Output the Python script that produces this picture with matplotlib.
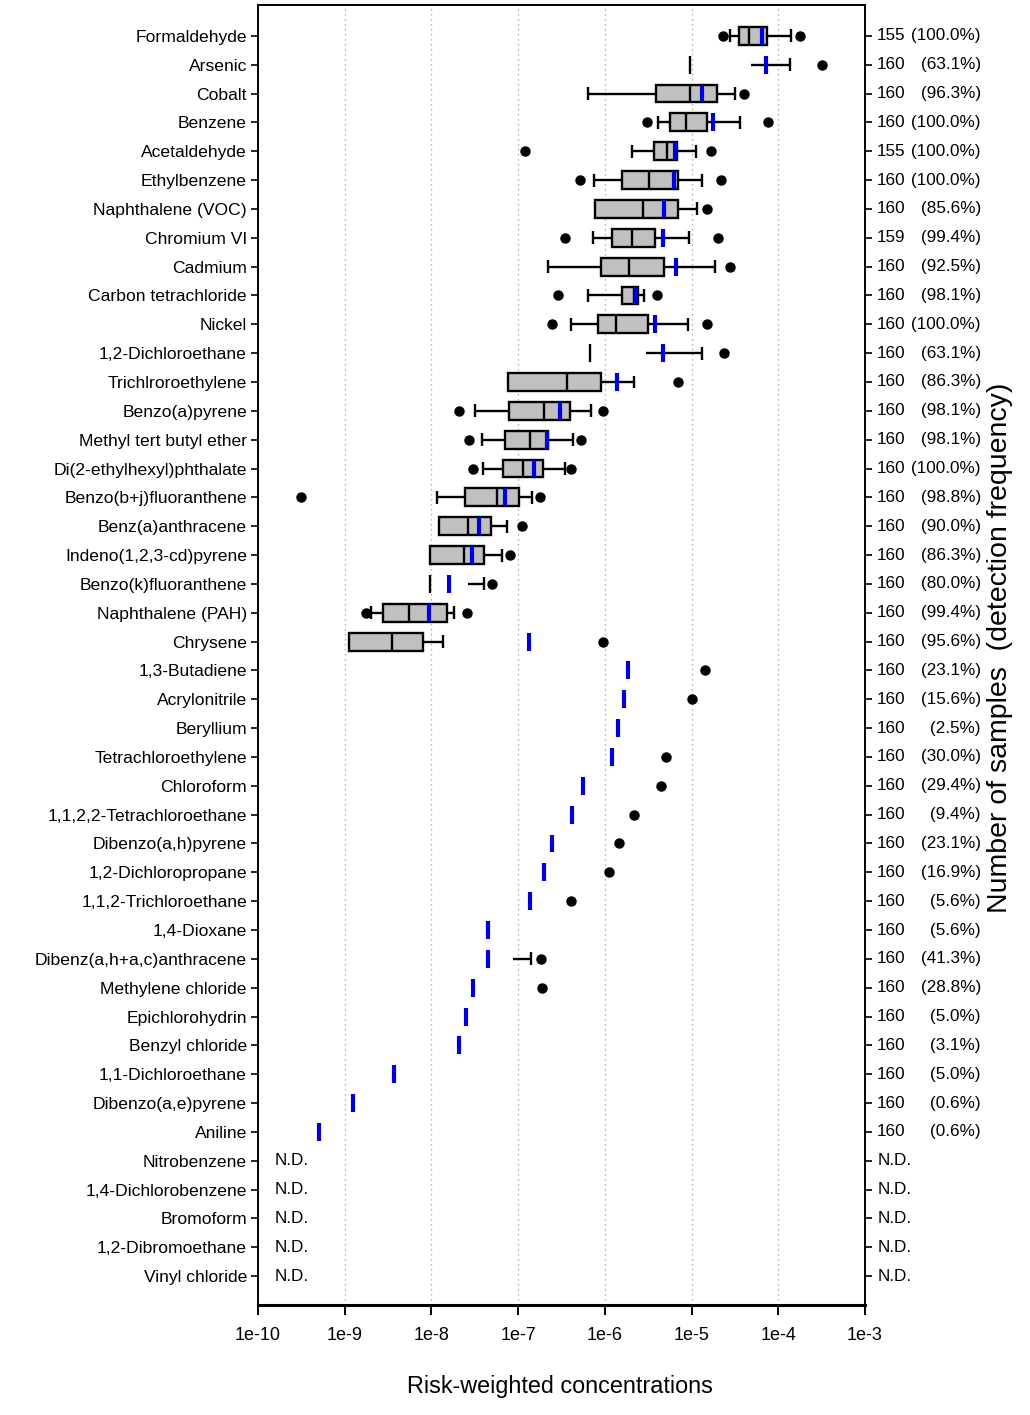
import matplotlib
matplotlib.use("Agg")
import matplotlib.pyplot as plt
import numpy as np
from matplotlib.patches import Rectangle

nan = np.nan

compounds = [
    "Formaldehyde", "Arsenic", "Cobalt", "Benzene", "Acetaldehyde", "Ethylbenzene",
    "Naphthalene (VOC)", "Chromium VI", "Cadmium", "Carbon tetrachloride", "Nickel",
    "1,2-Dichloroethane", "Trichlroroethylene", "Benzo(a)pyrene", "Methyl tert butyl ether",
    "Di(2-ethylhexyl)phthalate", "Benzo(b+j)fluoranthene", "Benz(a)anthracene",
    "Indeno(1,2,3-cd)pyrene", "Benzo(k)fluoranthene", "Naphthalene (PAH)", "Chrysene",
    "1,3-Butadiene", "Acrylonitrile", "Beryllium", "Tetrachloroethylene", "Chloroform",
    "1,1,2,2-Tetrachloroethane", "Dibenzo(a,h)pyrene", "1,2-Dichloropropane",
    "1,1,2-Trichloroethane", "1,4-Dioxane", "Dibenz(a,h+a,c)anthracene",
    "Methylene chloride", "Epichlorohydrin", "Benzyl chloride", "1,1-Dichloroethane",
    "Dibenzo(a,e)pyrene", "Aniline", "Nitrobenzene", "1,4-Dichlorobenzene", "Bromoform",
    "1,2-Dibromoethane", "Vinyl chloride",
]

# percentiles (nan = not drawn)
p5 = [2.29e-5, nan, nan, 3.04e-6, 1.20e-7, 5.13e-7, nan, 3.48e-7, nan, 2.86e-7, 2.48e-7,
      nan, nan, 2.10e-8, 2.69e-8, 3.04e-8, 3.13e-10, nan, nan, nan, 1.76e-9, nan] + [nan] * 22
p10 = [2.78e-5, nan, 6.4e-7, 4.11e-6, 2.04e-6, 7.5e-7, 7.7e-7, 7.31e-7, 2.23e-7, 6.46e-7, 4.07e-7,
       nan, 7.59e-8, 3.18e-8, 3.84e-8, 3.94e-8, 1.15e-8, 1.23e-8, 9.64e-9, nan, 2.01e-9, 1.12e-9] + [nan] * 22
p25 = [3.53e-5, nan, 3.86e-6, 5.61e-6, 3.69e-6, 1.58e-6, 7.7e-7, 1.20e-6, 8.97e-7, 1.59e-6, 8.28e-7,
       nan, 7.59e-8, 7.80e-8, 7.0e-8, 6.64e-8, 2.42e-8, 1.23e-8, 9.64e-9, nan, 2.79e-9, 1.12e-9] + [nan] * 22
p50 = [4.60e-5, 9.6e-6, 9.6e-6, 8.65e-6, 5.21e-6, 3.24e-6, 2.78e-6, 2.07e-6, 1.89e-6, 2.17e-6, 1.35e-6,
       6.75e-7, 3.66e-7, 2.00e-7, 1.37e-7, 1.15e-7, 5.66e-8, 2.67e-8, 2.36e-8, 9.64e-9, 5.47e-9, 3.54e-9] + [nan] * 22
p75 = [7.36e-5, 4.82e-5, 1.95e-5, 1.52e-5, 6.86e-6, 6.98e-6, 6.93e-6, 3.82e-6, 4.77e-6, 2.43e-6, 3.15e-6,
       2.98e-6, 9.12e-7, 4.0e-7, 2.19e-7, 1.95e-7, 1.02e-7, 4.86e-8, 4.05e-8, 2.67e-8, 1.50e-8, 7.95e-9,
       nan, nan, nan, nan, nan, nan, nan, nan, nan, nan, 8.81e-8] + [nan] * 11
p90 = [1.39e-4, 1.37e-4, 3.15e-5, 3.62e-5, 1.13e-5, 1.33e-5, 1.17e-5, 9.3e-6, 1.87e-5, 2.81e-6, 9.18e-6,
       1.32e-5, 2.17e-6, 6.93e-7, 4.3e-7, 3.44e-7, 1.45e-7, 7.41e-8, 6.52e-8, 4.01e-8, 1.81e-8, 1.36e-8,
       nan, nan, nan, nan, nan, nan, nan, nan, nan, nan, 1.41e-7] + [nan] * 11
p95 = [1.78e-4, 3.18e-4, 4.06e-5, 7.69e-5, 1.68e-5, 2.17e-5, 1.50e-5, 2.02e-5, 2.76e-5, 3.97e-6, 1.51e-5,
       2.38e-5, 6.93e-6, 9.53e-7, 5.27e-7, 4.07e-7, 1.79e-7, 1.11e-7, 8.07e-8, 5.0e-8, 2.55e-8, 9.53e-7,
       1.41e-5, 1.02e-5, nan, 5.08e-6, 4.49e-6, 2.17e-6, 1.46e-6, 1.11e-6, 4.05e-7, nan, 1.82e-7,
       1.89e-7] + [nan] * 10
means = [6.45e-5, 7.18e-5, 1.33e-5, 1.78e-5, 6.40e-6, 6.24e-6, 4.82e-6, 4.73e-6, 6.62e-6, 2.26e-6, 3.82e-6,
         4.73e-6, 1.39e-6, 3.02e-7, 2.14e-7, 1.54e-7, 7.0e-8, 3.56e-8, 2.92e-8, 1.60e-8, 9.38e-9, 1.34e-7,
         1.87e-6, 1.65e-6, 1.43e-6, 1.22e-6, 5.56e-7, 4.22e-7, 2.48e-7, 1.97e-7, 1.36e-7, 4.5e-8, 4.5e-8,
         3.04e-8, 2.53e-8, 2.10e-8, 3.73e-9, 1.26e-9, 5.1e-10] + [nan] * 5

n_samples = [155, 160, 160, 160, 155, 160, 160, 159, 160, 160, 160, 160, 160, 160, 160, 160, 160, 160,
             160, 160, 160, 160, 160, 160, 160, 160, 160, 160, 160, 160, 160, 160, 160, 160, 160, 160,
             160, 160, 160]
det_freq = [100.0, 63.1, 96.3, 100.0, 100.0, 100.0, 85.6, 99.4, 92.5, 98.1, 100.0, 63.1, 86.3, 98.1,
            98.1, 100.0, 98.8, 90.0, 86.3, 80.0, 99.4, 95.6, 23.1, 15.6, 2.5, 30.0, 29.4, 9.4, 23.1,
            16.9, 5.6, 5.6, 41.3, 28.8, 5.0, 3.1, 5.0, 0.6, 0.6]

xticks = [1e-10, 1e-9, 1e-8, 1e-7, 1e-6, 1e-5, 1e-4, 1e-3]
xticklabels = ["1e-10", "1e-9", "1e-8", "1e-7", "1e-6", "1e-5", "1e-4", "1e-3"]

plt.rcParams["font.family"] = ["Liberation Sans", "DejaVu Sans"]

W, H = 1030, 1415
fig = plt.figure(figsize=(W / 100, H / 100), dpi=100)
ax = fig.add_axes([258 / W, 1 - 1305 / H, 607 / W, 1300 / H])
ax.set_xscale("log")
ax.set_xlim(1e-10, 1e-3)
ax.set_ylim(44.0, -1.07)

for x in xticks[1:-1]:
    ax.axvline(x, color="#9a9a9a", ls=(0, (1, 3)), lw=0.9, zorder=0)

bh, ch = 0.62, 0.45
for i in range(len(compounds)):
    q1, q3, md = p25[i], p75[i], p50[i]
    if not np.isnan(q1) and not np.isnan(q3):
        ax.add_patch(Rectangle((q1, i - bh / 2), q3 - q1, bh, facecolor="#c0c0c0",
                               edgecolor="black", lw=1.7, zorder=2))
    if not np.isnan(md):
        ax.vlines(md, i - bh / 2, i + bh / 2, color="black", lw=1.7, zorder=3)
    if not np.isnan(p10[i]) and not np.isnan(q1) and p10[i] < q1:
        ax.hlines(i, p10[i], q1, color="black", lw=1.7, zorder=1)
        ax.vlines(p10[i], i - ch / 2, i + ch / 2, color="black", lw=1.7, zorder=1)
    if not np.isnan(p90[i]) and not np.isnan(q3) and p90[i] > q3:
        ax.hlines(i, q3, p90[i], color="black", lw=1.7, zorder=1)
        ax.vlines(p90[i], i - ch / 2, i + ch / 2, color="black", lw=1.7, zorder=1)
    for v in (p5[i], p95[i]):
        if not np.isnan(v):
            ax.plot(v, i, "o", color="black", ms=6.5, zorder=3)
    if not np.isnan(means[i]):
        ax.vlines(means[i], i - bh / 2, i + bh / 2, color="#0000dd", lw=3, zorder=4)

ytr = ax.get_yaxis_transform()
for i in range(len(compounds)):
    if i < len(n_samples):
        ax.text(1.02, i, str(n_samples[i]), transform=ytr, ha="left", va="center",
                fontsize=12.3, clip_on=False)
        ax.text(1.191, i, f"({det_freq[i]:.1f}%)", transform=ytr, ha="right", va="center",
                fontsize=12.3, clip_on=False)
    else:
        ax.text(1.02, i, "N.D.", transform=ytr, ha="left", va="center", fontsize=12.3, clip_on=False)
        ax.text(0.028, i, "N.D.", transform=ytr, ha="left", va="center", fontsize=12.3)

ax.set_yticks(range(len(compounds)))
ax.set_yticklabels(compounds, fontsize=12.6)
ax.yaxis.set_ticks_position("both")
ax.tick_params(axis="y", direction="out", length=5, width=1.2, pad=3, labelright=False)
ax.set_xticks(xticks)
ax.set_xticklabels(xticklabels, fontsize=13)
ax.xaxis.set_minor_locator(matplotlib.ticker.NullLocator())
ax.tick_params(axis="x", direction="out", length=7, width=1.4, pad=9)
for s in ("left", "right", "top"):
    ax.spines[s].set_linewidth(1.4)
ax.spines["bottom"].set_linewidth(2.2)

fig.text(560 / W, 1 - 1386 / H, "Risk-weighted concentrations", ha="center", va="center", fontsize=16.8)
fig.text(1000 / W, 1 - 648 / H, "Number of samples  (detection frequency)", ha="center",
         va="center", rotation=90, fontsize=20.5)

fig.savefig("out.png", dpi=100)
